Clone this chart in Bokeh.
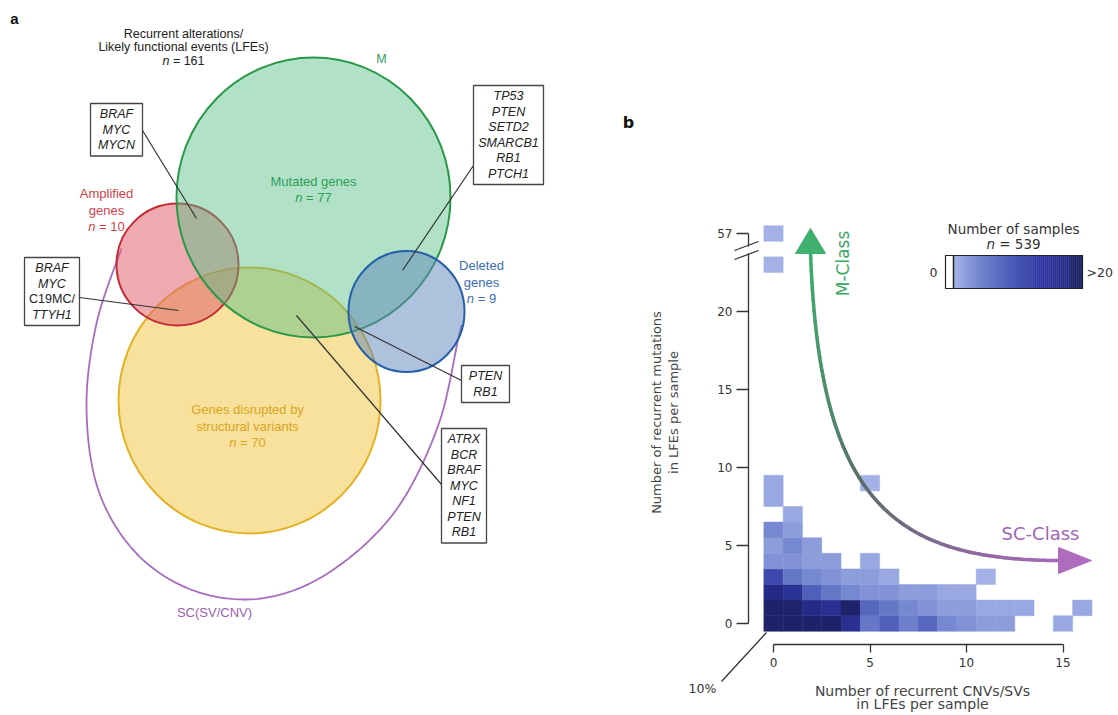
import numpy as np
from bokeh.plotting import figure
from bokeh.models import Range1d, FixedTicker, LinearColorMapper, ColumnDataSource
from bokeh.layouts import row
from bokeh.transform import transform
from bokeh.core.properties import value
from bokeh.embed import file_html
from bokeh.resources import INLINE

# ------------------------------------------------------------------ data: panel a
lfe_total = 161
set_mut_label = ["Mutated genes"]
set_amp_label = ["Amplified", "genes"]
set_del_label = ["Deleted", "genes"]
set_sv_label = ["Genes disrupted by", "structural variants"]
n_mut = 77
n_amp = 10
n_del = 9
n_sv = 70
genes_amp_mut = ["BRAF", "MYC", "MYCN"]
genes_amp_sv = ["BRAF", "MYC", "C19MC/", "TTYH1"]
genes_mut_del = ["TP53", "PTEN", "SETD2", "SMARCB1", "RB1", "PTCH1"]
genes_sv_del = ["PTEN", "RB1"]
genes_mut_sv = ["ATRX", "BCR", "BRAF", "MYC", "NF1", "PTEN", "RB1"]
not_gene_symbols = ["C19MC/"]

# ------------------------------------------------------------------ data: panel b
n_samples = 539
cnv_sv = [0, 1, 2, 3, 4, 5, 6, 7, 8, 9, 10, 11, 12, 15,
          0, 1, 2, 3, 4, 5, 6, 7, 8, 9, 10, 11, 12, 13, 16,
          0, 1, 2, 3, 4, 5, 6, 7, 8, 9, 10,
          0, 1, 2, 3, 4, 5, 6, 11,
          0, 1, 2, 3, 5,
          0, 1, 2,
          0, 1,
          1,
          0,
          0, 5,
          0,
          0]
mutations = ([0] * 14 + [1] * 15 + [2] * 11 + [3] * 8 + [4] * 5 + [5] * 3 + [6] * 2
             + [7] + [8] + [9, 9] + [23] + [57])
n_per_cell = [50, 40, 35, 25, 18, 7, 10, 6, 9, 5, 4, 3, 3, 2,
              32, 32, 20, 18, 22, 9, 7, 5, 4, 3, 3, 2, 2, 2, 2,
              20, 17, 10, 7, 5, 4, 4, 3, 3, 2, 2,
              13, 7, 5, 4, 3, 3, 2, 1,
              4, 4, 3, 3, 2,
              3, 5, 3,
              5, 3,
              2,
              2,
              2, 1,
              1,
              1]
x_ticks = [0, 5, 10, 15]
y_ticks = [0, 5, 10, 15, 20]
cmap_low, cmap_high = 1, 20

# ------------------------------------------------------------------ shared layout
H = 713                  # figure height
FT, FBOT = 4, 644        # frame top / bottom (page pixels) shared by both panels
WA = 598                 # width of panel a

# ------------------------------------------------------------------ panel a
FA = "Liberation Sans"
pa = figure(width=WA, height=H, x_range=Range1d(0, WA), y_range=Range1d(FBOT, FT),
            output_backend="svg", toolbar_location=None,
            min_border_left=0, min_border_right=0, min_border_top=FT, min_border_bottom=H - FBOT,
            x_axis_location=None, y_axis_location=None)
pa.grid.visible = False
pa.outline_line_color = None


def txt(p, x, y, s, size=13, color="#222", style="normal", align="center", font=FA):
    p.text(x=[x], y=[y], text=[s], text_font=value(font), text_font_size=f"{size}px",
           text_color=color, text_font_style=style, text_align=align, text_baseline="middle")


def n_text(p, cx, y, num, color, size=13):
    w_n = 0.556 * size
    w_sp = 0.278 * size
    w_rest = (0.584 + 0.278 + 0.556 * len(str(num))) * size
    x0 = cx - (w_n + w_sp + w_rest) / 2
    txt(p, x0, y, "n", size, color, "italic", "left")
    txt(p, x0 + w_n + w_sp, y, "= " + str(num), size, color, "normal", "left")


def catmull(pts, n=24):
    P = np.array(pts, float)
    P = np.vstack([P[0], P, P[-1]])
    out = []
    for i in range(1, len(P) - 2):
        p0, p1, p2, p3 = P[i - 1], P[i], P[i + 1], P[i + 2]
        for t in np.linspace(0, 1, n, endpoint=False):
            out.append(0.5 * (2 * p1 + (-p0 + p2) * t + (2 * p0 - 5 * p1 + 4 * p2 - p3) * t * t
                              + (-p0 + 3 * p1 - 3 * p2 + p3) * t ** 3))
    out.append(P[-2])
    return np.array(out)


# SC (SV/CNV) outline
sc = catmull([(121, 248), (96, 323), (86, 407), (98, 490), (136, 553), (193, 590),
              (260, 598), (327, 573), (393, 513), (437, 427), (458, 337), (461, 325)])
pa.line(sc[:, 0], sc[:, 1], line_color="#a66cc0", line_width=1.8)

# sets
pa.ellipse(x=[249], y=[400], width=[262], height=[266], fill_color="#f0c84a", fill_alpha=0.55,
           line_color="#e3b125", line_width=2)
pa.ellipse(x=[177], y=[264], width=[122], height=[122], fill_color="#e0646f", fill_alpha=0.55,
           line_color="#c42a34", line_width=2)
pa.ellipse(x=[313], y=[197], width=[274], height=[280], fill_color="#52bf84", fill_alpha=0.45,
           line_color="#2a9848", line_width=2)
pa.ellipse(x=[406], y=[311], width=[116], height=[121], fill_color="#5f86bb", fill_alpha=0.5,
           line_color="#2460a8", line_width=2)

# leader lines
leaders = [((142, 130), (196, 218)), ((79, 297), (178, 310)), ((473, 165), (402, 270)),
           ((461, 380), (354, 326)), ((441, 484), (296, 315))]
pa.segment(x0=[a[0] for a, b in leaders], y0=[a[1] for a, b in leaders],
           x1=[b[0] for a, b in leaders], y1=[b[1] for a, b in leaders],
           line_color="#333", line_width=1.2)

LINE, PAD = 15.5, 3


def gene_box(p, genes, cx, ytop, width):
    h = len(genes) * LINE + 2 * PAD
    p.quad(left=[cx - width / 2], right=[cx + width / 2], top=[ytop], bottom=[ytop + h],
           fill_color="white", line_color="#444", line_width=1.3)
    for i, g in enumerate(genes):
        style = "normal" if g in not_gene_symbols else "italic"
        txt(p, cx, ytop + PAD + LINE * (i + 0.5), g, 12.5, "#222", style)


gene_box(pa, genes_amp_mut, 116, 103, 52)
gene_box(pa, genes_amp_sv, 51.5, 257, 55)
gene_box(pa, genes_mut_del, 508, 85, 70)
gene_box(pa, genes_sv_del, 485, 365, 48)
gene_box(pa, genes_mut_sv, 463.5, 428, 45)

# texts
txt(pa, 14, 18, "a", 15, "#111", "bold")
txt(pa, 183, 33, "Recurrent alterations/", 12.5)
txt(pa, 183, 46, "Likely functional events (LFEs)", 12.5)
n_text(pa, 183, 60, lfe_total, "#222", 12.5)
txt(pa, 381, 58, "M", 12.5, "#2f9e55")
txt(pa, 313, 181, set_mut_label[0], 13, "#2f9e55")
n_text(pa, 313, 197, n_mut, "#2f9e55")
for i, s in enumerate(set_amp_label):
    txt(pa, 106, 193 + 16.5 * i, s, 13, "#cf3f4b")
n_text(pa, 106, 226, n_amp, "#cf3f4b")
for i, s in enumerate(set_del_label):
    txt(pa, 481, 265 + 16.5 * i, s, 13, "#3b6db3")
n_text(pa, 481, 298, n_del, "#3b6db3")
for i, s in enumerate(set_sv_label):
    txt(pa, 247, 409 + 16.5 * i, s, 13, "#d9a520")
n_text(pa, 247, 442, n_sv, "#d9a520")
txt(pa, 214, 612, "SC(SV/CNV)", 13, "#9b62b0")

# ------------------------------------------------------------------ panel b
FB = "DejaVu Sans"
X0PX, XU = 773.0, 19.3      # page pixel of x=0, pixels per unit
Y0PX, YU = 623.0, 15.6      # page pixel of y=0, pixels per unit
FL, FR = 748, 1100          # frame left / right (page pixels)
WB = 518


def bx(px):
    return (px - X0PX) / XU


def by(py):
    return (Y0PX - py) / YU


pb = figure(width=WB, height=H,
            x_range=Range1d(bx(FL), bx(FR)), y_range=Range1d(by(FBOT), by(FT)),
            output_backend="svg", toolbar_location=None,
            min_border_left=FL - WA, min_border_right=WA + WB - FR,
            min_border_top=FT, min_border_bottom=H - FBOT)
pb.grid.visible = False
pb.outline_line_color = None

TOP_POS = 25   # drawing position for values above the axis break
y_pos = [v if v <= 23 else TOP_POS for v in mutations]


def blend(anchors, t):
    pos = [a[0] for a in anchors]
    cols = [np.array([int(a[1][i:i + 2], 16) for i in (1, 3, 5)]) for a in anchors]
    for k in range(len(pos) - 1):
        if t <= pos[k + 1]:
            f = (t - pos[k]) / (pos[k + 1] - pos[k])
            c = cols[k] * (1 - f) + cols[k + 1] * f
            return "#%02x%02x%02x" % tuple(int(round(v)) for v in c)
    return "#%02x%02x%02x" % tuple(cols[-1])


HIGH = "#1e2268"
anch = [(0.0, "#a3b1e6"), (0.21, "#7587d0"), (0.47, "#4f5fba"), (0.74, "#3039a2"), (1.0, "#242a86")]
palette = [blend(anch, t) for t in np.linspace(0, 1, 128)]
mapper = LinearColorMapper(palette=palette, low=cmap_low, high=cmap_high, high_color=HIGH)

src = ColumnDataSource(dict(x=cnv_sv, y=y_pos, n=n_per_cell))
pb.rect(x="x", y="y", width=1, height=1, source=src, fill_color=transform("n", mapper),
        line_color=transform("n", mapper), line_width=0.5)

# axes
pb.xaxis.ticker = FixedTicker(ticks=x_ticks)
pb.xaxis.bounds = (x_ticks[0], x_ticks[-1])
pb.yaxis.ticker = FixedTicker(ticks=y_ticks + [TOP_POS])
pb.yaxis.major_label_overrides = {TOP_POS: str(max(mutations))}
pb.yaxis.bounds = (0, TOP_POS)
for ax in pb.axis:
    ax.axis_line_color = "#333"
    ax.axis_line_width = 1.3
    ax.major_tick_line_color = "#333"
    ax.major_tick_line_width = 1.3
    ax.minor_tick_line_color = None
    ax.major_tick_in = 0
    ax.major_label_text_font = FB
    ax.major_label_text_font_size = "12px"
    ax.major_label_text_color = "#333"
pb.xaxis.major_tick_out = 8
pb.xaxis.major_label_standoff = 5
pb.yaxis.major_tick_out = 12
pb.yaxis.major_label_standoff = 4


def tb(px, py, s, size, color="#333", align="center", angle=0.0, style="normal"):
    pb.text(x=[bx(px)], y=[by(py)], text=[s], text_font=value(FB), text_font_size=f"{size}px",
            text_color=color, text_align=align, text_baseline="middle", angle=angle,
            text_font_style=style, level="overlay")


# axis break (drawn above the axis line) and depth guide
pb.quad(left=[bx(741)], right=[bx(754)], bottom=[by(253)], top=[by(246)],
        fill_color="white", line_color=None, level="overlay")
brk = [(734, 250, 758, 241), (734, 259, 758, 250), (766, 632, 721, 681)]
pb.segment(x0=[bx(b[0]) for b in brk], y0=[by(b[1]) for b in brk],
           x1=[bx(b[2]) for b in brk], y1=[by(b[3]) for b in brk],
           line_color="#333", line_width=1.3, level="overlay")

tb(702, 688, "10%", 12.5)
tb(628, 122, "b", 16, "#111", style="bold")
tb(656, 412, "Number of recurrent mutations", 13, "#444", angle=np.pi / 2)
tb(673, 412, "in LFEs per sample", 13, "#444", angle=np.pi / 2)
tb(922, 690, "Number of recurrent CNVs/SVs", 14, "#444")
tb(922, 703, "in LFEs per sample", 14, "#444")

# legend
tb(1013, 228, "Number of samples", 13.5)
wn = 0.634 * 13.5
wsp = 0.318 * 13.5
wr = (0.838 + 0.318 + 0.636 * len(str(n_samples))) * 13.5
lx = 1013 - (wn + wsp + wr) / 2
tb(lx, 243, "n", 13.5, align="left", style="italic")
tb(lx + wn + wsp, 243, "= " + str(n_samples), 13.5, align="left")
g_left, g_right, g_top, g_bot = 953, 1082, 255, 288
edges = np.linspace(g_left, g_right, 65)
gcols = [blend(anch, t) for t in np.linspace(0, 1, 58)] + [HIGH] * 6
pb.quad(left=[bx(e) for e in edges[:-1]], right=[bx(e) + 0.02 for e in edges[1:]],
        top=by(g_top), bottom=by(g_bot), fill_color=gcols, line_color=None)
pb.quad(left=[bx(945)], right=[bx(g_right)], top=[by(g_top)], bottom=[by(g_bot)],
        fill_color=None, line_color="#222", line_width=1.2)
pb.segment(x0=[bx(g_left)], y0=[by(g_top)], x1=[bx(g_left)], y1=[by(g_bot)],
           line_color="#222", line_width=1.5)
tb(933, 272, "0", 12.5)
tb(1086, 272, ">20", 12.5, align="left")

# class trajectory arrow
P0, P1, P2, P3 = (np.array(v, float) for v in [(810, 252), (819, 498), (889, 560), (1060, 560)])
tt = np.linspace(0, 1, 120)
curve = np.array([(1 - t) ** 3 * P0 + 3 * (1 - t) ** 2 * t * P1 + 3 * (1 - t) * t ** 2 * P2 + t ** 3 * P3
                  for t in tt])
arrow_anch = [(0.0, "#3dae6c"), (0.45, "#5a6e6a"), (1.0, "#a868b8")]
seg_cols = [blend(arrow_anch, (tt[i] + tt[i + 1]) / 2) for i in range(len(tt) - 1)]
pb.segment(x0=[bx(v) for v in curve[:-1, 0]], y0=[by(v) for v in curve[:-1, 1]],
           x1=[bx(v) for v in curve[1:, 0]], y1=[by(v) for v in curve[1:, 1]],
           line_color=seg_cols, line_width=3.5, line_cap="round")
pb.patch(x=[bx(795), bx(810), bx(825)], y=[by(253), by(228), by(253)],
         fill_color="#3fb06e", line_color="#3fb06e")
pb.patch(x=[bx(1058), bx(1091), bx(1058)], y=[by(547), by(560), by(573)],
         fill_color="#ad6cbd", line_color="#ad6cbd")
tb(842, 263, "M-Class", 17, "#3aa865", angle=np.pi / 2)
tb(1040, 533, "SC-Class", 18, "#a066b4")

layout = row(pa, pb)
open("out.html", "w").write(file_html(layout, INLINE))
